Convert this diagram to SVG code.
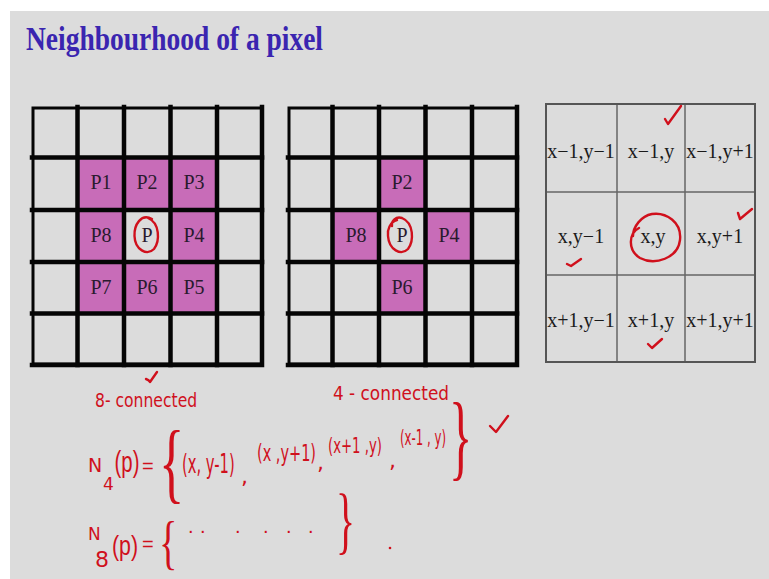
<svg xmlns="http://www.w3.org/2000/svg" width="769" height="579" viewBox="0 0 769 579">
<style>
.bg{fill:#dcdcdc}
.pix{fill:#c86cb8}
.gl{stroke:#050505;stroke-width:4.5;fill:none;stroke-linecap:square}
.go{stroke:#050505;stroke-width:3;fill:none}
.pl{font-family:"Liberation Serif","Times New Roman",serif;font-size:20px;fill:#2a1a2e;text-anchor:middle}
.tl{font-family:"Liberation Serif","Times New Roman",serif;font-size:20px;fill:#1a1a1a;text-anchor:middle}
.tb{stroke:#666;stroke-width:1.5;fill:none}
.tbo{stroke:#555;stroke-width:2;fill:none}
.hw{font-family:"DejaVu Sans","Liberation Sans",sans-serif;fill:#d0101c}
.hs{font-family:"Liberation Sans",Arial,sans-serif;fill:#d0101c}
.br{font-family:"Liberation Serif","Times New Roman",serif;fill:#d0101c}
.rk{stroke:#d0101c;stroke-width:2.4;fill:none;stroke-linecap:round;stroke-linejoin:round}
</style>
<rect x="0" y="0" width="769" height="579" fill="#ffffff"/>
<rect class="bg" x="10" y="11" width="759" height="568"/>

<g id="title">
<text x="26" y="50" font-family="Liberation Serif,'Times New Roman',serif" font-weight="bold" font-size="33" fill="#3a25b0" textLength="297" lengthAdjust="spacingAndGlyphs">Neighbourhood of a pixel</text>
</g>

<g id="grid-8-connected">
<rect class="pix" x="77.5" y="157.5" width="139.5" height="156"/>
<rect class="bg" x="124" y="210" width="46.5" height="52"/>
<path class="gl" d="M77.5 107V365M124 107V365M170.5 107V365M217 107V365M32 157.5H262M32 210H262M32 262H262M32 313.5H262"/>
<path class="go" d="M33 108H262V364H33Z"/>
<path class="gl" d="M262 107V365M32 365H262"/>
<text class="pl" x="101" y="189">P1</text>
<text class="pl" x="147" y="189">P2</text>
<text class="pl" x="194" y="189">P3</text>
<text class="pl" x="101" y="242">P8</text>
<text class="pl" x="147" y="242">P</text>
<text class="pl" x="194" y="242">P4</text>
<text class="pl" x="101" y="294">P7</text>
<text class="pl" x="147" y="294">P6</text>
<text class="pl" x="194" y="294">P5</text>
<path class="rk" d="M152 219C141 213 134 225 134.5 236C135 250 147 256 154 249C160 241 160 223 148 218"/>
</g>

<g id="grid-4-connected">
<rect class="pix" x="379" y="157.5" width="46.5" height="52.5"/>
<rect class="pix" x="332.5" y="210" width="46.5" height="52"/>
<rect class="pix" x="425.5" y="210" width="46.5" height="52"/>
<rect class="pix" x="379" y="262" width="46.5" height="51.5"/>
<path class="gl" d="M332.5 107V365M379 107V365M425.5 107V365M472 107V365M288 157.5H517M288 210H517M288 262H517M288 313.5H517"/>
<path class="go" d="M289 108H517V364H289Z"/>
<path class="gl" d="M517 107V365M288 365H517"/>
<text class="pl" x="402" y="189">P2</text>
<text class="pl" x="356" y="242">P8</text>
<text class="pl" x="402" y="242">P</text>
<text class="pl" x="449" y="242">P4</text>
<text class="pl" x="402" y="294">P6</text>
<path class="rk" d="M397 220C390 222 387 230 388 236C389 250 401 256 408 249C414 241 414 223 402 218C396 216 391 221 392 226"/>
</g>

<g id="coordinate-table">
<path class="tb" d="M617 104V362M685 104V362M546 192H755M546 275H755"/>
<rect class="tbo" x="546" y="104" width="209" height="258"/>
<text class="tl" x="581" y="158">x−1,y−1</text>
<text class="tl" x="651" y="158">x−1,y</text>
<text class="tl" x="720" y="158">x−1,y+1</text>
<text class="tl" x="581" y="243">x,y−1</text>
<text class="tl" x="653" y="243">x,y</text>
<text class="tl" x="720" y="243">x,y+1</text>
<text class="tl" x="581" y="327">x+1,y−1</text>
<text class="tl" x="651" y="327">x+1,y</text>
<text class="tl" x="720" y="327">x+1,y+1</text>
<path class="rk" d="M639 228C629 233 627 250 640 258C655 266 678 258 680 240C682 222 666 212 652 214C641 216 633 227 633 236"/>
<path class="rk" d="M665 119L668 124L681 106"/>
<path class="rk" d="M738 213L740 219L752 209"/>
<path class="rk" d="M567 264L571 266L581 259"/>
<path class="rk" d="M648 344L652 348L662 339"/>
</g>

<g id="annotations">
<path class="rk" d="M146 379Q149 380 150 382L157 372"/>
<text class="hw" transform="translate(95 407) scale(0.78 1)" font-size="20">8- connected</text>
<text class="hw" transform="translate(333 400) scale(0.845 1)" font-size="20">4 - connected</text>

<text class="hw" x="88" y="472" font-size="19">N</text>
<text class="hw" x="103" y="490" font-size="17">4</text>
<text class="hs" transform="translate(114.5 472) scale(0.68 1)" font-size="30">(p)</text>
<text class="hs" x="142" y="473" font-size="20">=</text>
<text class="br" transform="translate(159 491.5) scale(1.2 2)" font-size="44">{</text>
<text class="hw" transform="translate(182 473) scale(0.567 1)" font-size="26">(x, y-1)</text>
<text class="hw" x="241" y="484" font-size="22">,</text>
<text class="hw" transform="translate(257 461) scale(0.63 1)" font-size="23">(x ,y+1)</text>
<text class="hw" x="317" y="470" font-size="22">,</text>
<text class="hw" transform="translate(328 453) scale(0.63 1)" font-size="21">(x+1 ,y)</text>
<text class="hw" x="389" y="468" font-size="22">,</text>
<text class="hw" transform="translate(400 445) scale(0.534 1)" font-size="22">(x-1 , y)</text>
<text class="br" transform="translate(449 467.5) scale(1.1 2.17)" font-size="44">}</text>
<path class="rk" d="M490 426L496 432L508 416"/>

<text class="hw" x="88" y="540" font-size="17">N</text>
<text class="hw" x="95" y="567" font-size="22">8</text>
<text class="hs" transform="translate(112 555) scale(0.79 1)" font-size="27">(p)</text>
<text class="hs" x="142" y="551" font-size="20">=</text>
<text class="br" transform="translate(159 562) scale(1.2 1.86)" font-size="32">{</text>
<text class="hs" font-size="20" x="188 200 235 263 286 308" y="533">......</text>
<text class="br" transform="translate(336 544.6) scale(1.1 2.04)" font-size="36">}</text>
<circle cx="390" cy="548" r="1.3" fill="#d0101c"/>
</g>
</svg>
